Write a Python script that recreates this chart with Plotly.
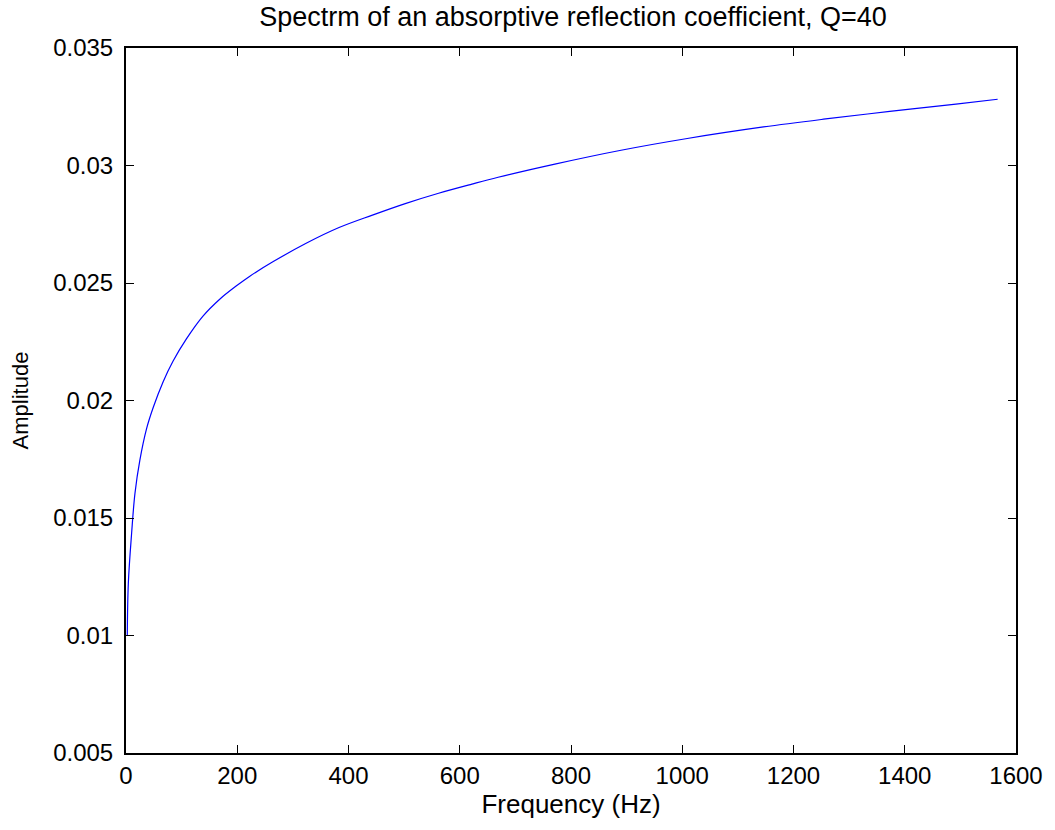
import plotly.graph_objects as go

# Values
freq_hz = [2.3, 4.2, 10.1, 16.1, 25, 37, 48.9, 66.8, 84.7, 108.6, 138, 168, 198, 222,
           264, 323, 383, 443, 502, 562, 622, 669, 771, 890, 1009, 1146, 1254, 1373,
           1492, 1567]
amplitude = [0.0100, 0.01223, 0.01435, 0.01605, 0.01747, 0.01880, 0.01970, 0.0208,
             0.02168, 0.02262, 0.02358, 0.02430, 0.02487, 0.02528, 0.0259, 0.02668,
             0.02736, 0.02789, 0.02838, 0.02882, 0.02921, 0.02950, 0.03006, 0.03065,
             0.03115, 0.03164, 0.03197, 0.03230, 0.03261, 0.03282]
x_ticks = [0, 200, 400, 600, 800, 1000, 1200, 1400, 1600]
y_ticks = [0.005, 0.01, 0.015, 0.02, 0.025, 0.03, 0.035]
y_tick_text = ["0.005", "0.01", "0.015", "0.02", "0.025", "0.03", "0.035"]

fig = go.Figure()
fig.add_trace(go.Scatter(x=freq_hz, y=amplitude, mode="lines",
                         line=dict(color="#0000ff", width=1.2, shape="spline", smoothing=1.0),
                         showlegend=False, hoverinfo="skip"))

fam = "Liberation Sans, Arial, sans-serif"
tick_font = dict(family=fam, color="black", size=24)
axis_common = dict(showgrid=False, zeroline=False, showline=True, linecolor="black",
                   linewidth=2, mirror="ticks", ticks="inside", ticklen=8,
                   tickcolor="black", tickwidth=1, tickfont=tick_font)

fig.update_layout(
    width=1055, height=830,
    margin=dict(l=126, r=35, t=48, b=77),
    paper_bgcolor="white", plot_bgcolor="white",
    title=dict(text="Spectrm of an absorptive reflection coefficient, Q=40",
               x=0.5431, xanchor="center", y=1 - 17 / 830, yanchor="middle",
               font=dict(family=fam, color="black", size=27)),
    xaxis=dict(range=[0, 1600], tickvals=x_ticks, **axis_common,
               title=dict(text="Frequency (Hz)", font=dict(family=fam, color="black", size=26),
                          standoff=4)),
    yaxis=dict(range=[0.005, 0.035], tickvals=y_ticks, ticktext=y_tick_text, **axis_common,
               ticklabelstandoff=6,
               title=dict(text="Amplitude", font=dict(family=fam, color="black", size=22),
                          standoff=18)),
)

fig.write_html("out.html", config={"displayModeBar": False},
               post_script="document.body.style.margin='0';")
